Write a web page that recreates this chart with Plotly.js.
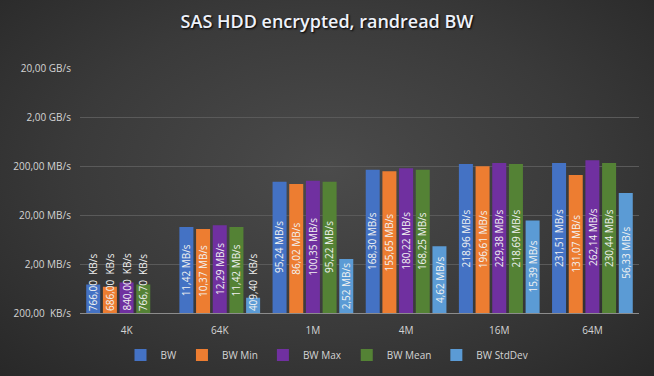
<!DOCTYPE html>
<html>
<head>
<meta charset="utf-8">
<script src="https://cdn.plot.ly/plotly-3.0.1.min.js"></script>
<style>
  html, body { margin: 0; padding: 0; width: 654px; height: 376px; overflow: hidden; }
  body { background: radial-gradient(ellipse at 50% 45%, #4b4b4b 0%, #3a3a3a 55%, #282828 100%); }
  #chart { width: 654px; height: 376px; }
</style>
</head>
<body>
<div id="chart"></div>
<script>
// Values in KB/s
var categories = ['4K', '64K', '1M', '4M', '16M', '64M'];
var seriesNames = ['BW', 'BW Min', 'BW Max', 'BW Mean', 'BW StdDev'];
var bwValues     = [766.00, 11420, 95240, 168300, 218960, 231510];
var bwMinValues  = [686.00, 10370, 86020, 155650, 196610, 131070];
var bwMaxValues  = [840.00, 12290, 100350, 180220, 229380, 262140];
var bwMeanValues = [766.70, 11420, 95220, 168250, 218690, 230440];
var bwStdValues  = [null, 409.40, 2520, 4620, 15390, 56330];
var tickValues = [200, 2000, 20000, 200000, 2000000, 20000000];
var tickLabels = ['200,00\u00a0 KB/s', '2,00 MB/s', '20,00 MB/s', '200,00 MB/s', '2,00 GB/s', '20,00 GB/s'];
var colors = ['#4472c4', '#ed7d31', '#7030a0', '#548235', '#5b9bd5'];

var allSeries = [bwValues, bwMinValues, bwMaxValues, bwMeanValues, bwStdValues];

function fmt(v) {
  if (v < 1000) return v.toFixed(2).replace('.', ',') + '\u00a0 KB/s';
  if (v < 1000000) return (v / 1000).toFixed(2).replace('.', ',') + ' MB/s';
  return (v / 1000000).toFixed(2).replace('.', ',') + ' GB/s';
}

var bargap = 0.105;
var yMinLog = Math.log10(200), yMaxLog = Math.log10(20000000);
var plotH = 245;
var pxPerDec = plotH / (yMaxLog - yMinLog);

var traces = allSeries.map(function (vals, i) {
  return {
    type: 'bar',
    name: seriesNames[i],
    x: categories,
    y: vals,
    marker: { color: colors[i] },
    textposition: 'none',
    hoverinfo: 'x+y+name'
  };
});

var annotations = [];
var n = allSeries.length;
var slot = (1 - bargap) / n;
allSeries.forEach(function (vals, i) {
  vals.forEach(function (v, j) {
    if (v === null || v === undefined) return;
    var txt = fmt(v);
    var halfLen = txt.length * 5.4 / 2;
    var lv = Math.log10(v);
    var centerPx = (lv - yMinLog) / 2 * pxPerDec;
    var xpos = j - (1 - bargap) / 2 + slot * (i + 0.5);
    var ann = {
      xref: 'x', yref: 'y', x: xpos, showarrow: false,
      text: txt, textangle: -90,
      font: { family: 'Open Sans, sans-serif', size: 10, color: '#f2f2f2' }
    };
    if (centerPx < halfLen + 2) {
      ann.y = yMinLog; ann.yanchor = 'bottom'; ann.yshift = 0;
    } else {
      ann.y = (lv + yMinLog) / 2; ann.yanchor = 'middle';
    }
    annotations.push(ann);
  });
});

var layout = {
  width: 654, height: 376,
  paper_bgcolor: 'rgba(0,0,0,0)',
  plot_bgcolor: 'rgba(0,0,0,0)',
  margin: { l: 80, r: 15, t: 68, b: 63 },
  barmode: 'group',
  bargap: bargap,
  bargroupgap: 0.16,
  title: {
    text: 'SAS HDD encrypted, randread BW',
    x: 0.5, xanchor: 'center', xref: 'container',
    y: 0.942, yanchor: 'middle',
    font: { family: 'Open Sans, sans-serif', size: 18, color: '#eef2fa', weight: 600, shadow: '1px 1px 2px #000000' }
  },
  xaxis: {
    type: 'category',
    showgrid: false,
    showline: true, linecolor: '#8c8c8c', linewidth: 1,
    ticks: '',
    tickfont: { family: 'Open Sans, sans-serif', size: 10, color: '#d4d4d4' },
    ticklabelstandoff: 8,
    fixedrange: true
  },
  yaxis: {
    type: 'log',
    range: [yMinLog, yMaxLog],
    tickvals: tickValues,
    ticktext: tickLabels,
    showgrid: true, gridcolor: '#5a5a5a', gridwidth: 1,
    zeroline: false,
    ticks: '',
    tickfont: { family: 'Open Sans, sans-serif', size: 10, color: '#d4d4d4' },
    ticklabelstandoff: 8,
    fixedrange: true
  },
  legend: {
    orientation: 'h',
    x: 0.5, xref: 'container', xanchor: 'center',
    y: 0.056, yref: 'container', yanchor: 'middle',
    font: { family: 'Open Sans, sans-serif', size: 10, color: '#d4d4d4' },
    itemwidth: 30,
    bgcolor: 'rgba(0,0,0,0)'
  },
  annotations: annotations,
  showlegend: true
};

Plotly.newPlot('chart', traces, layout, { displayModeBar: false, staticPlot: true });
</script>
</body>
</html>
